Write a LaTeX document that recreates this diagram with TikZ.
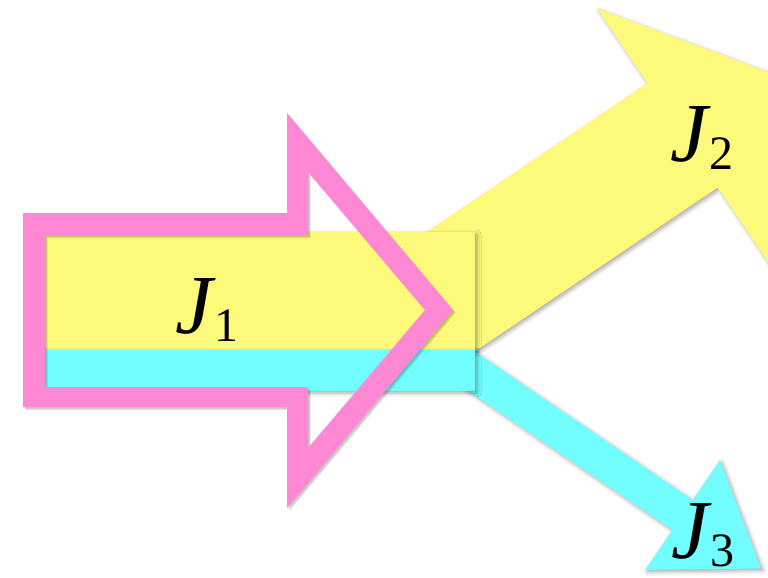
\documentclass[tikz,border=0pt]{standalone}
\usepackage{fontspec}
\setmainfont{Liberation Serif}
\usetikzlibrary{shadows.blur}
\definecolor{jyellow}{RGB}{253,249,122}
\definecolor{jcyan}{RGB}{114,253,254}
\definecolor{jpink}{RGB}{255,136,213}
\newcommand{\jlab}[1]{\textit{J}\kern-1pt\raisebox{-4pt}{\fontsize{24}{24}\selectfont #1}}
\newcommand{\pinkarrow}{(23,213) -- (287,213) -- (287,113) -- (453,310) -- (287,508) -- (287,407) -- (23,407) -- cycle
    (45,235) -- (308,235) -- (308,172) -- (425,310) -- (308,448) -- (308,387) -- (45,387) -- cycle}
\tikzset{
  flow/.style={fill=#1, draw=none, blur shadow={shadow xshift=1pt, shadow yshift=-1pt,
      shadow blur radius=2pt, shadow opacity=35}},
  lab/.style={inner sep=0pt, font=\fontsize{42}{42}\selectfont}
}
\begin{document}
\begin{tikzpicture}[x=0.5pt, y=-0.5pt]
            \useasboundingbox (0,0) rectangle (768,578);

            % Arrows out
            \fill[flow=jyellow] (384.8,260.2) -- (647.4,83.1) -- (597.1,8.5) -- (773.5,74)
                -- (768.1,262.1) -- (717.8,187.5) -- (455.2,364.6) -- cycle;
            \fill[flow=jcyan] (450.1,334.8) -- (692.6,500.1) -- (719.9,460.1) -- (761,568.5)
                -- (645.1,569.9) -- (672.4,529.9) -- (429.9,364.6) -- cycle;

            % Arrow in
            \fill[flow=jyellow] (45,232) rectangle (475,350);
            \fill[flow=jcyan] (45,350) rectangle (475,391);
            \fill[black, opacity=0.12, even odd rule, shift={(2.5,3)}] \pinkarrow;
            \fill[black, opacity=0.12, even odd rule, shift={(1.5,1.5)}] \pinkarrow;
            \fill[jpink, even odd rule] \pinkarrow;

            % Labels
            \node[lab] (J1) at (207,310) {\jlab{1}};
            \node[lab] (J2) at (702,138) {\jlab{2}};
            \node[lab] (J3) at (703,535) {\jlab{3}};
        \end{tikzpicture}
\end{document}
